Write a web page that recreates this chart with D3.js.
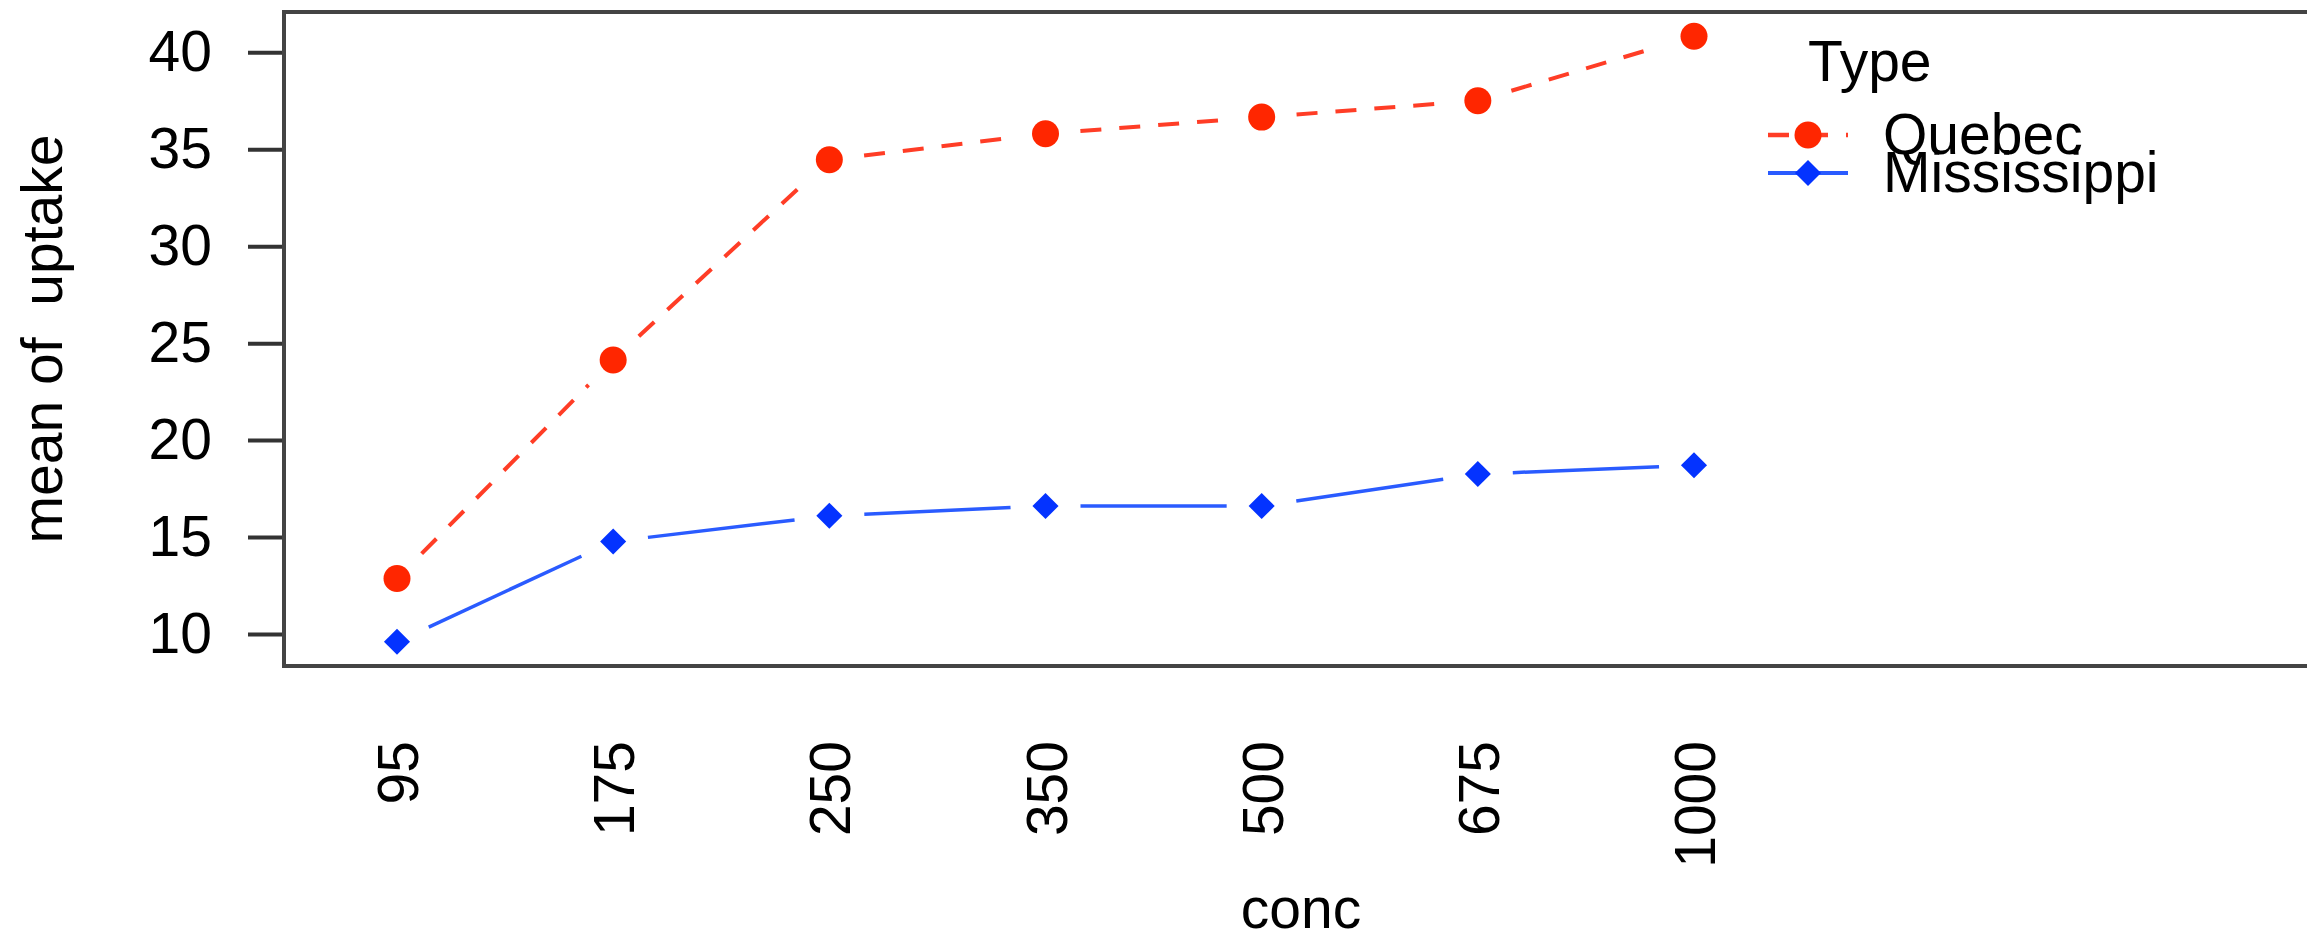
<!DOCTYPE html>
<html>
<head>
<meta charset="utf-8">
<script src="https://cdnjs.cloudflare.com/ajax/libs/d3/7.8.5/d3.min.js"></script>
<style>
body { margin: 0; background: #fff; }
text { font-family: "Liberation Sans", Arial, Helvetica, sans-serif; fill: #000; }
</style>
</head>
<body>
<div id="chart-area"></div>
<script>
// values
var concLevels = ["95", "175", "250", "350", "500", "675", "1000"];
var quebecMeans = [12.86, 24.13, 34.46, 35.8, 36.66, 37.5, 40.83];
var mississippiMeans = [9.6, 14.77, 16.1, 16.6, 16.6, 18.25, 18.7];
var yTicks = [10, 15, 20, 25, 30, 35, 40];
var typeNames = ["Quebec", "Mississippi"];

var width = 2307;
var height = 936;
var box = {left: 284, top: 12, right: 2318, bottom: 666};
var fontSize = 57;

var series = [
    {name: typeNames[0], values: quebecMeans, marker: "#ff2600", line: "#ff3d26", dash: "21,18", lw: 4, shape: "circle"},
    {name: typeNames[1], values: mississippiMeans, marker: "#0433ff", line: "#2a5bff", dash: null, lw: 3.5, shape: "diamond"}
];

var svg = d3.select('#chart-area')
    .append('svg')
        .attr('width', width)
        .attr('height', height);

var x = d3.scalePoint()
    .domain(concLevels)
    .range([397, 1694]);

// R style: 4% padding around the data range
var all = quebecMeans.concat(mississippiMeans);
var lo = d3.min(all), hi = d3.max(all);
var pad = (hi - lo) * 0.04;
var y = d3.scaleLinear()
    .domain([lo - pad, hi + pad])
    .range([box.bottom, box.top]);

// left axis
var leftAxis = d3.axisLeft(y).tickValues(yTicks).tickSize(36).tickPadding(36);
var yAxisGroup = svg.append("g")
    .attr("transform", "translate(" + box.left + ",0)")
    .call(leftAxis);
yAxisGroup.select(".domain").remove();
yAxisGroup.selectAll("line").attr("stroke", "#333").attr("stroke-width", 4);
yAxisGroup.selectAll("text")
    .attr("font-size", fontSize + "px")
    .attr("font-family", null)
    .style("fill", "#000");

// x labels, rotated like las=2
svg.append("g").selectAll("text")
    .data(concLevels)
    .enter().append("text")
        .attr("transform", (d) => { return "translate(" + (x(d) + 21) + ",741) rotate(-90)"; })
        .attr("text-anchor", "end")
        .attr("font-size", fontSize + "px")
        .text((d) => { return d; });

// plot box
svg.append("rect")
    .attr("x", box.left)
    .attr("y", box.top)
    .attr("width", box.right - box.left)
    .attr("height", box.bottom - box.top)
    .attr("fill", "none")
    .attr("stroke", "#444")
    .attr("stroke-width", 4);

// axis titles
svg.append("text")
    .attr("transform", "translate(62," + ((box.top + box.bottom) / 2) + ") rotate(-90)")
    .attr("text-anchor", "middle")
    .attr("font-size", fontSize + "px")
    .style("white-space", "pre")
    .text("mean of  uptake");

svg.append("text")
    .attr("x", (box.left + box.right) / 2)
    .attr("y", 928)
    .attr("text-anchor", "middle")
    .attr("font-size", fontSize + "px")
    .text("conc");

// type "b": segments stop short of the points
var gap = 35;
function drawMarker(sel, s, cx, cy) {
    if (s.shape === "circle") {
        sel.append("circle").attr("cx", cx).attr("cy", cy).attr("r", 13.5).attr("fill", s.marker);
    } else {
        sel.append("path")
            .attr("d", d3.symbol().type(d3.symbolSquare).size(340)())
            .attr("transform", "translate(" + cx + "," + cy + ") rotate(45)")
            .attr("fill", s.marker);
    }
}

series.forEach((s) => {
    var g = svg.append("g");
    var pts = s.values.map((v, i) => { return [x(concLevels[i]), y(v)]; });
    for (var i = 0; i < pts.length - 1; i++) {
        var a = pts[i], b = pts[i + 1];
        var dx = b[0] - a[0], dy = b[1] - a[1];
        var len = Math.sqrt(dx * dx + dy * dy);
        if (len <= 2 * gap) continue;
        var ux = dx / len, uy = dy / len;
        g.append("line")
            .attr("x1", a[0] + ux * gap).attr("y1", a[1] + uy * gap)
            .attr("x2", b[0] - ux * gap).attr("y2", b[1] - uy * gap)
            .attr("stroke", s.line)
            .attr("stroke-width", s.lw)
            .attr("stroke-dasharray", s.dash);
    }
    pts.forEach((p) => { drawMarker(g, s, p[0], p[1]); });
});

// legend (the two rows overlap in the original too)
var legend = svg.append("g");
legend.append("text")
    .attr("x", 1808)
    .attr("y", 81)
    .attr("font-size", fontSize + "px")
    .text("Type");

series.forEach((s, i) => {
    var ly = 135 + i * 38;
    legend.append("line")
        .attr("x1", 1768).attr("x2", 1848)
        .attr("y1", ly).attr("y2", ly)
        .attr("stroke", s.line)
        .attr("stroke-width", s.lw + 0.5)
        .attr("stroke-dasharray", s.dash);
    drawMarker(legend, s, 1808, ly);
    legend.append("text")
        .attr("x", 1883)
        .attr("y", ly + 19)
        .attr("font-size", fontSize + "px")
        .text(s.name);
});
</script>
</body>
</html>
